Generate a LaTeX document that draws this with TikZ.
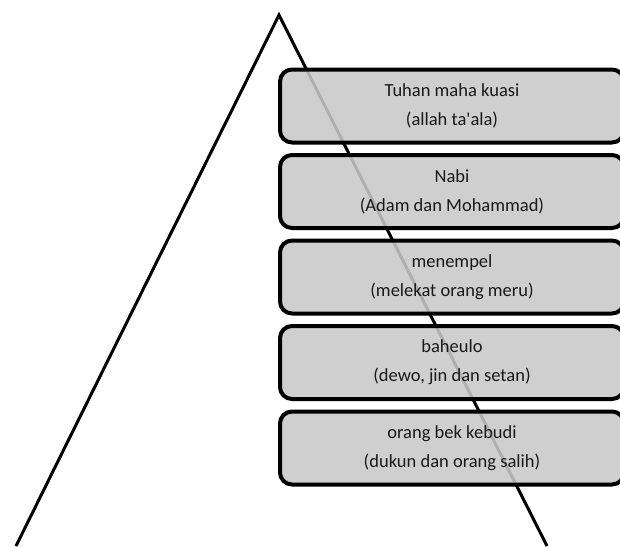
\documentclass[tikz,border=0pt]{standalone}
\usepackage{fontspec}
\setmainfont{Carlito}[Ligatures=TeXOff]
\begin{document}
\begin{tikzpicture}[x=1pt,y=-1pt,
  tier/.style={draw=black, line width=4pt, rounded corners=12pt, fill={rgb,255:red,200;green,200;blue,200},
    fill opacity=0.88, draw opacity=1, text opacity=1, minimum width=344pt, minimum height=73pt,
    inner sep=0pt, align=center, text={rgb,255:red,25;green,25;blue,25},
    font=\fontsize{18.5}{29}\selectfont},
  edge/.style={line width=3pt, line join=miter}]
\useasboundingbox (0,0) rectangle (620,546);
\clip (0,0) rectangle (620,546);
\coordinate (apex) at (279,15);
\coordinate (bl) at (16,546);
\coordinate (br) at (547,546);
\draw[edge] (bl) -- (apex) -- (br);
\node[tier] (t1) at (452,106) {Tuhan maha kuasi\\(allah ta'ala)};
\node[tier] (t2) at (452,191.5) {Nabi\\(Adam dan Mohammad)};
\node[tier] (t3) at (452,277) {menempel\\(melekat orang meru)};
\node[tier] (t4) at (452,362.5) {baheulo\\(dewo, jin dan setan)};
\node[tier] (t5) at (452,448) {orang bek kebudi\\(dukun dan orang salih)};
\end{tikzpicture}
\end{document}
